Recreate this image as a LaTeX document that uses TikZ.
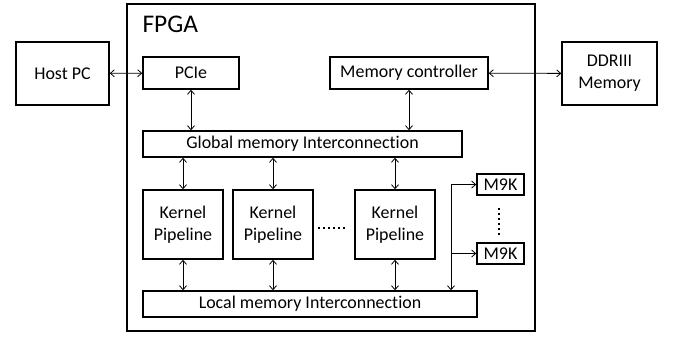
\documentclass[tikz,border=0pt]{standalone}
\usepackage{fontspec}
\setmainfont[Ligatures=NoCommon]{Carlito}
\usetikzlibrary{arrows.meta}
\begin{document}
\begin{tikzpicture}[x=1bp,y=-1bp,
  font=\fontsize{18}{22}\selectfont,
  box/.style={draw,line width=1.5bp,rectangle,inner sep=0pt,align=center},
  link/.style={line width=0.8bp,{Straight Barb[length=4bp,width=7bp]}-{Straight Barb[length=4bp,width=7bp]}},
  tap/.style={line width=0.8bp,-{Straight Barb[length=4bp,width=7bp]}},
  dots/.style={line width=2bp,dash pattern=on 2bp off 3bp}]
  \useasboundingbox (0,0) rectangle (675,336);
  % FPGA frame
  \draw[line width=1.5bp] (127,4) rectangle (535,331);
  \node[anchor=base west,font=\fontsize{25.5}{30}\selectfont] (fpga) at (139,32) {FPGA};
  % outside
  \node[box,minimum width=93bp,minimum height=63bp] (host) at (62.5,73.5) {Host PC};
  \node[box,minimum width=95bp,minimum height=63bp] (ddr) at (609.5,73.5) {DDRIII\\Memory};
  % inside
  \node[box,minimum width=96bp,minimum height=32bp] (pcie) at (191,73) {PCIe};
  \node[box,minimum width=158bp,minimum height=32bp] (memctrl) at (409,73) {Memory controller};
  \node[box,minimum width=319bp,minimum height=26bp] (global) at (302.5,144) {Global memory Interconnection};
  \node[box,minimum width=80bp,minimum height=69bp] (k1) at (183,224.5) {Kernel\\Pipeline};
  \node[box,minimum width=80bp,minimum height=69bp] (k2) at (273,224.5) {Kernel\\Pipeline};
  \node[box,minimum width=80bp,minimum height=69bp] (k3) at (395,224.5) {Kernel\\Pipeline};
  \node[box,minimum width=334bp,minimum height=26bp] (local) at (310,304) {Local memory Interconnection};
  \node[box,minimum width=47bp,minimum height=21bp] (m1) at (500.5,184.5) {M9K};
  \node[box,minimum width=47bp,minimum height=21bp] (m2) at (500.5,253.5) {M9K};
  \coordinate (split) at (451,184.5);
  % links
  \draw[link] (host) -- (pcie);
  \draw[link] (memctrl) -- (ddr);
  \draw[link] (pcie) -- (global.north -| pcie);
  \draw[link] (memctrl) -- (global.north -| memctrl);
  \foreach \k in {k1,k2,k3} {
    \draw[link] (\k) -- (global.south -| \k);
    \draw[link] (\k) -- (local.north -| \k);
  }
  \draw[tap] (split) -- (local.north -| split);
  \draw[tap] (split) -- (m1);
  \draw[tap] (split |- m2) -- (m2);
  % dots
  \draw[dots] (318,228) -- (346,228);
  \draw[dots] (498.5,208) -- (498.5,236);
\end{tikzpicture}
\end{document}
